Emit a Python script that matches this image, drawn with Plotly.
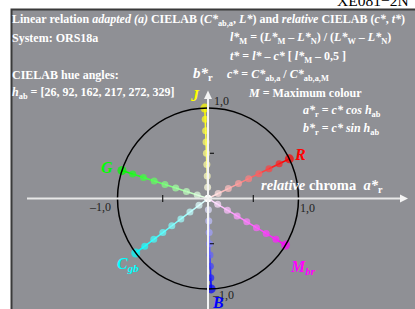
import plotly.graph_objects as go
import numpy as np

W, H = 415, 309
CX, CY, R = 208, 198.5, 90.5

# data
hue_angles = [26, 92, 162, 217, 272, 329]
hue_names = ["R", "J", "G", "C<sub>gb</sub>", "B", "M<sub>br</sub>"]
hue_colors = [(255, 0, 0), (255, 255, 0), (0, 255, 0), (0, 255, 255), (0, 0, 255), (255, 0, 255)]
chroma_steps = [0, 0.125, 0.25, 0.375, 0.5, 0.625, 0.75, 0.875, 1.0]

def px2x(px):
    return (px - CX) / R

def py2y(py):
    return (CY - py) / R

def P(px):
    return px / W

def Q(py):
    return 1 - py / H

def mix(col, c):
    r = [round(255 * (1 - c) + v * c) for v in col]
    return f"rgb({r[0]},{r[1]},{r[2]})"

fig = go.Figure()

shapes = []
# gray panel
shapes.append(dict(type="rect", xref="paper", yref="paper", x0=P(11.5), x1=P(430), y0=Q(330), y1=Q(9.5),
                   fillcolor="#8f9095", line=dict(color="#3a3a3a", width=2), layer="below"))
# circle
shapes.append(dict(type="circle", xref="x", yref="y", x0=-1, x1=1, y0=-1, y1=1,
                   line=dict(color="black", width=1.5)))
# axes lines
shapes.append(dict(type="line", xref="x", yref="y", x0=px2x(27), x1=px2x(400), y0=0, y1=0,
                   line=dict(color="#e8e8e8", width=2)))
shapes.append(dict(type="line", xref="x", yref="y", x0=0, x1=0, y0=py2y(320), y1=py2y(98),
                   line=dict(color="#f4f4f4", width=2)))
# ticks
for t in (-0.5, 0.5):
    shapes.append(dict(type="line", xref="x", yref="y", x0=t, x1=t, y0=py2y(195), y1=py2y(202),
                       line=dict(color="black", width=1)))
    shapes.append(dict(type="line", xref="x", yref="y", x0=0.02, x1=px2x(214), y0=t, y1=t,
                       line=dict(color="black", width=1)))

# arrowheads
fig.add_trace(go.Scatter(x=[px2x(400), px2x(408), px2x(400), px2x(400)],
                         y=[py2y(194.5), 0, py2y(202.5), py2y(194.5)],
                         fill="toself", fillcolor="#f4f4f4", line=dict(color="#f4f4f4", width=0),
                         mode="lines", hoverinfo="skip", showlegend=False))
fig.add_trace(go.Scatter(x=[px2x(204), 0, px2x(212), px2x(204)],
                         y=[py2y(99), py2y(90.5), py2y(99), py2y(99)],
                         fill="toself", fillcolor="#f4f4f4", line=dict(color="#f4f4f4", width=0),
                         mode="lines", hoverinfo="skip", showlegend=False))

# hue lines
for h, col in zip(hue_angles, hue_colors):
    xs = [c * np.cos(np.radians(h)) for c in chroma_steps]
    ys = [c * np.sin(np.radians(h)) for c in chroma_steps]
    for i in range(len(chroma_steps) - 1):
        fig.add_trace(go.Scatter(x=xs[i:i + 2], y=ys[i:i + 2], mode="lines",
                                 line=dict(color=mix(col, chroma_steps[i + 1]), width=1.5),
                                 hoverinfo="skip", showlegend=False))
    fig.add_trace(go.Scatter(x=xs, y=ys, mode="markers",
                             marker=dict(color=[mix(col, c) for c in chroma_steps],
                                         size=[7] * (len(chroma_steps) - 1) + [9], line=dict(width=0)),
                             hoverinfo="skip", showlegend=False))

ann = []
WHITE = "white"
SERIF = "Liberation Serif"

def txt(px, py, s, size=12, color=WHITE, anchor="left"):
    ann.append(dict(xref="paper", yref="paper", x=P(px), y=Q(py), text=s, showarrow=False,
                    xanchor=anchor, yanchor="middle", borderpad=0, borderwidth=0,
                    font=dict(family=SERIF, size=size, color=color)))

txt(337, 1, "XE081−2N", size=15.5, color="black")
txt(12, 20, "<b>Linear relation <i>adapted (a)</i> CIELAB (<i>C*</i><sub>ab,a</sub>, <i>L*</i>) and <i>relative</i> CIELAB (<i>c*</i>, <i>t*</i>)</b>", size=12)
txt(12, 38, "<b>System: ORS18a</b>")
txt(230, 38, "<b><i>l*</i><sub>M</sub> = (<i>L*</i><sub>M</sub> – <i>L*</i><sub>N</sub>) / (<i>L*</i><sub>W</sub> – <i>L*</i><sub>N</sub>)</b>")
txt(230, 57, "<b><i>t*</i> = <i>l*</i> – <i>c*</i> [ <i>l*</i><sub>M</sub> – 0,5 ]</b>")
txt(12, 75, "<b>CIELAB hue angles:</b>")
txt(193, 74, "<b><i>b*</i><sub>r</sub></b>", size=15)
txt(227, 75, "<b><i>c*</i> = <i>C*</i><sub>ab,a</sub> / <i>C*</i><sub>ab,a,M</sub></b>")
txt(12, 93, "<b><i>h</i><sub>ab</sub> = [26, 92, 162, 217, 272, 329]</b>")
txt(248, 93, "<b><i>M</i> = Maximum colour</b>")
txt(303, 111, "<b><i>a*</i><sub>r</sub> = <i>c* cos h</i><sub>ab</sub></b>")
txt(303, 129, "<b><i>b*</i><sub>r</sub> = <i>c* sin h</i><sub>ab</sub></b>")
txt(261, 186, "<b><i>relative</i> chroma  <i>a*</i><sub>r</sub></b>", size=14.5)

txt(214, 101, "1,0", size=12, color="#222222")
txt(89, 207, "–1,0", size=12, color="#222222")
txt(300, 208, "1,0", size=12, color="#222222")
txt(212, 295, "–1,0", size=12, color="#222222")

label_pos = [(294, 154), (190, 95), (101, 167), (117, 264), (212, 302), (290, 267)]
for name, col, (lx, ly) in zip(hue_names, hue_colors, label_pos):
    txt(lx, ly, f"<b><i>{name}</i></b>", size=16, color=f"rgb{col}")

fig.update_layout(
    width=W, height=H, margin=dict(l=0, r=0, t=0, b=0),
    paper_bgcolor="white", plot_bgcolor="rgba(0,0,0,0)",
    xaxis=dict(range=[px2x(0), px2x(W)], visible=False, fixedrange=True),
    yaxis=dict(range=[py2y(H), py2y(0)], visible=False, fixedrange=True),
    shapes=shapes, annotations=ann, showlegend=False,
)
fig.write_html("out.html", config={"displayModeBar": False},
               post_script="document.body.style.margin='0px';document.body.style.overflow='hidden';")
